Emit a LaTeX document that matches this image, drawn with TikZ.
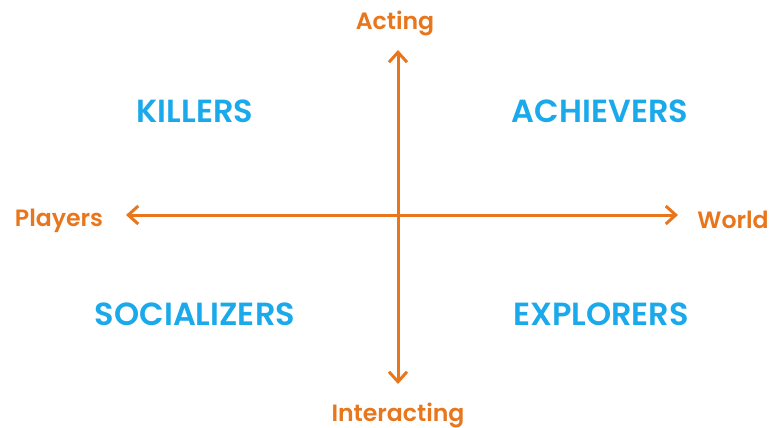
\documentclass[tikz,border=0pt]{standalone}
\usepackage{fontspec}
\setmainfont{Poppins}[BoldFont={Poppins SemiBold}]
\usetikzlibrary{arrows.meta}
\definecolor{axisorange}{HTML}{E8761C}
\definecolor{typeblue}{HTML}{1AA9EA}

\begin{document}
\begin{tikzpicture}[x=0.5pt, y=-0.5pt,
    axis/.style={draw=axisorange, line width=1.5pt, {Straight Barb[length=5pt,width=9pt]}-{Straight Barb[length=5pt,width=9pt]}},
    axislabel/.style={text=axisorange, font=\fontsize{11.8}{13}\selectfont\bfseries},
    playertype/.style={text=typeblue, font=\fontsize{16}{18}\selectfont\bfseries}]
    \useasboundingbox (0,0) rectangle (778,428);
    % axes
    \coordinate (top) at (398,50);
    \coordinate (bottom) at (398,384);
    \coordinate (left) at (126,215);
    \coordinate (right) at (678,215);
    \draw[axis] (top) -- (bottom);
    \draw[axis] (left) -- (right);
    \node[axislabel] (acting) at (395,23) {Acting};
    \node[axislabel] (interacting) at (398,415) {Interacting};
    \node[axislabel] (players) at (59,221) {Players};
    \node[axislabel] (world) at (733,220) {World};
    % player types
    \node[playertype] (killers) at (195,111) {KILLERS};
    \node[playertype] (achievers) at (600,111) {ACHIEVERS};
    \node[playertype] (socializers) at (195,314) {SOCIALIZERS};
    \node[playertype] (explorers) at (601,314) {EXPLORERS};
\end{tikzpicture}
\end{document}
